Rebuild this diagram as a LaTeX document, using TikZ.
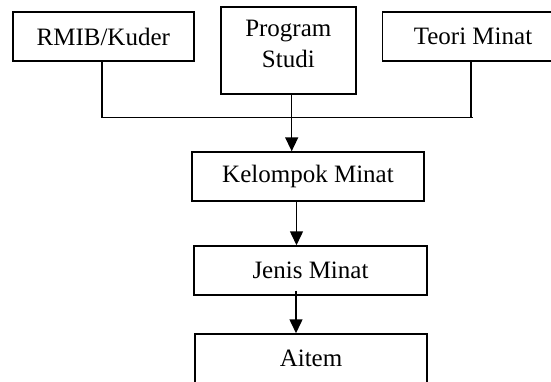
\documentclass[tikz,border=0pt]{standalone}
\usepackage{fontspec}
\setmainfont{Liberation Serif}
\usetikzlibrary{calc}
\usetikzlibrary{arrows.meta}
\tikzset{
    kotak/.style={draw,line width=1.5pt,inner sep=0pt,align=center,
        font=\fontsize{25}{30}\selectfont},
    teks/.style={inner sep=0pt,align=center,font=\fontsize{25}{31}\selectfont},
    panah/.style={line width=1.5pt,-{Triangle[length=14pt,width=13pt]}},
    garis/.style={line width=1.5pt}
}

\begin{document}
\begin{tikzpicture}[x=1pt,y=-1pt]

\useasboundingbox (0,0) rectangle (551,381);
\clip (0,0) rectangle (551,381);

% kotak-kotak
\node[kotak,minimum width=181pt,minimum height=49pt] (rmib) at (103.3,36.7) {RMIB/Kuder};
\node[kotak,minimum width=135pt,minimum height=87pt] (prodi) at (288.3,50.3) {};
\node[teks] (prodiTeks) at ($(prodi.center)+(0,-6)$) {Program\\Studi};
\node[kotak,minimum width=181pt,minimum height=49pt] (teori) at (473,36.3) {Teori Minat};
\node[kotak,minimum width=232pt,minimum height=49pt] (kelompok) at (308,176.5) {Kelompok Minat};
\node[kotak,minimum width=233pt,minimum height=49pt] (jenis) at (310.5,270.5) {Jenis Minat};
\node[kotak,minimum width=232pt,minimum height=49pt] (aitem) at (311,358.5) {Aitem};

% titik bantu
\coordinate (kiri) at ($(rmib.south)+(-1.5,55.7)$) ;
\coordinate (tA) at (471,0) ;
\coordinate (kanan) at ($(tA |- kiri)+(2,0)$) ;
\coordinate (pA) at ($(prodi.south)+(3.4,0)$) ;
\coordinate (bA) at ($(kelompok.south)+(-11.5,0)$) ;
\coordinate (bB) at ($(jenis.south)+(-14.5,-5)$) ;

% garis penghubung
\draw[garis] (rmib.south -| kiri) -- (kiri) -- (kanan);
\draw[garis] (tA |- teori.south) -- (tA |- kiri);
\draw[panah] (pA) -- (pA |- kelompok.north);
\draw[panah] (bA) -- (bA |- jenis.north);
\draw[panah] (bB) -- (bB |- aitem.north);

\end{tikzpicture}
\end{document}
